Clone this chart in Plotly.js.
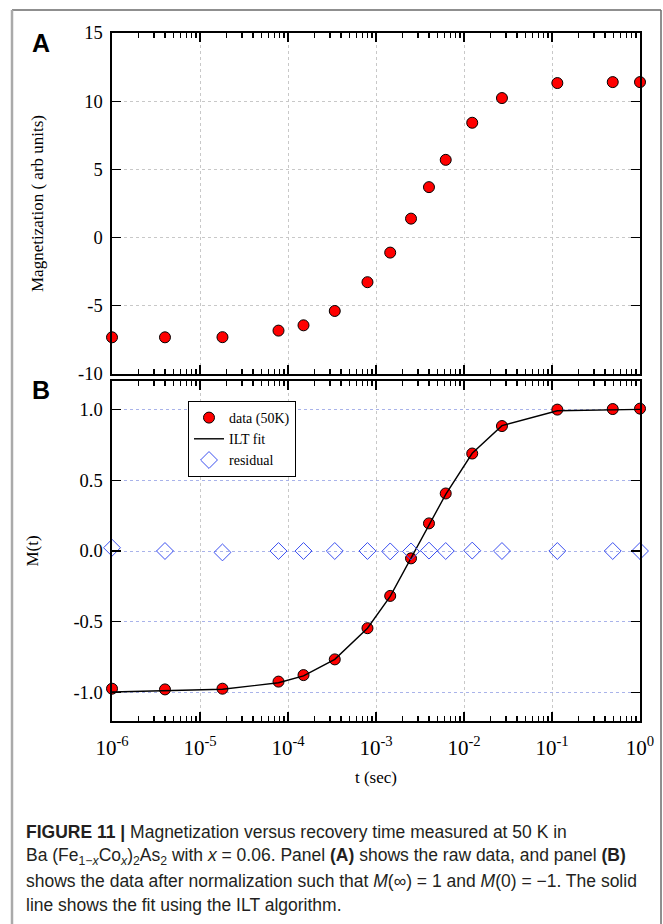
<!DOCTYPE html>
<html>
<head>
<meta charset="utf-8">
<script src="https://cdn.plot.ly/plotly-3.0.1.min.js"></script>
<style>html,body{margin:0;padding:0;background:#fff;}#chart{width:663px;height:924px;}</style>
</head>
<body>
<div id="chart"></div>
<script>
// ---- data ----
const tSec = [1e-6, 4e-6, 1.8e-5, 7.8e-5, 1.5e-4, 3.4e-4, 8e-4, 1.45e-3, 2.5e-3, 4e-3, 6.2e-3, 1.24e-2, 2.7e-2, 0.115, 0.49, 1.0];
const rawMag = [-7.31, -7.31, -7.30, -6.82, -6.43, -5.38, -3.27, -1.10, 1.39, 3.70, 5.70, 8.42, 10.23, 11.33, 11.40, 11.40];
const normM = [-0.972, -0.977, -0.972, -0.922, -0.876, -0.765, -0.545, -0.317, -0.052, 0.195, 0.406, 0.688, 0.882, 0.998, 1.002, 1.005];
const iltFit = [-0.995, -0.986, -0.976, -0.93, -0.882, -0.765, -0.545, -0.32, -0.05, 0.19, 0.40, 0.69, 0.885, 0.99, 1.0, 1.0];
const residual = [0.023, 0.0, -0.01, 0.0, 0.0, 0.0, 0.0, -0.003, -0.003, 0.003, 0.0, 0.003, 0.0, 0.0, 0.0, 0.0];

const xTickVals = [1e-6, 1e-5, 1e-4, 1e-3, 1e-2, 1e-1, 1];
const xTickText = ['10<sup>-6</sup>', '10<sup>-5</sup>', '10<sup>-4</sup>', '10<sup>-3</sup>', '10<sup>-2</sup>', '10<sup>-1</sup>', '10<sup>0</sup>'];
const yTopVals = [-10, -5, 0, 5, 10, 15];
const yTopText = ['-10', '-5', '0', '5', '10', '15'];
const yBotVals = [-1, -0.5, 0, 0.5, 1];
const yBotText = ['-1.0', '-0.5', '0.0', '0.5', '1.0'];

const legendNames = ['data (50K)', 'ILT fit', 'residual'];
const topTitle = 'Magnetization ( arb units)';
const botTitle = 'M(t)';
const xTitle = 't (sec)';
const captionLines = [
  '<b>FIGURE 11 |</b> Magnetization versus recovery time measured at 50 K in',
  'Ba (Fe<sub>1−<i>x</i></sub>Co<sub><i>x</i></sub>)<sub>2</sub>As<sub>2</sub> with <i>x</i> = 0.06. Panel <b>(A)</b> shows the raw data, and panel <b>(B)</b>',
  'shows the data after normalization such that <i>M</i>(∞) = 1 and <i>M</i>(0) = −1. The solid',
  'line shows the fit using the ILT algorithm.'
];

// ---- geometry (pixels) ----
const W = 663, H = 924;
const L = 112, R = 640, T = 33, B = 721;
const px2x = p => (p - L) / (R - L);
const px2y = p => (B - p) / (B - T);

const serif = 'Liberation Serif, Times New Roman, serif';
const sans = 'Liberation Sans, Arial, Helvetica, sans-serif';

function xAxis(showLabels, anchor) {
  return {
    type: 'log', range: [-6, 0], anchor: anchor,
    tickmode: 'array', tickvals: xTickVals, ticktext: xTickText,
    showticklabels: showLabels,
    ticks: 'inside', ticklen: 9, tickwidth: 1.2, tickcolor: '#000',
    minor: {dtick: 'D1', ticks: 'inside', ticklen: 5, tickwidth: 1.1, tickcolor: '#000', showgrid: false},
    showline: true, linecolor: '#000', linewidth: 1.6, mirror: 'allticks',
    showgrid: true, gridcolor: '#c8c8c8', griddash: 'dot', gridwidth: 1,
    zeroline: false,
    tickfont: {family: serif, size: 21, color: '#000'},
    ticklabelstandoff: 7
  };
}
function yAxis(domain, range, vals, text, title, gridColor, anchor) {
  return {
    domain: domain, range: range, anchor: anchor,
    tickmode: 'array', tickvals: vals, ticktext: text,
    ticks: 'inside', ticklen: 9, tickwidth: 1.2, tickcolor: '#000',
    showline: true, linecolor: '#000', linewidth: 1.6, mirror: 'allticks',
    showgrid: true, gridcolor: gridColor, griddash: 'dot', gridwidth: 1,
    zeroline: false,
    tickfont: {family: serif, size: 18.5, color: '#000'},
    ticklabelstandoff: 4,
    title: {text: title, font: {family: serif, size: 17, color: '#000'}, standoff: 30}
  };
}

const traces = [
  {x: tSec, y: rawMag, xaxis: 'x', yaxis: 'y', type: 'scatter', mode: 'markers', showlegend: false, cliponaxis: false,
   marker: {symbol: 'circle', size: 11, color: '#ff0000', line: {color: '#000', width: 1}}},
  {x: tSec, y: normM, xaxis: 'x2', yaxis: 'y2', type: 'scatter', mode: 'markers', name: legendNames[0], cliponaxis: false,
   marker: {symbol: 'circle', size: 11, color: '#ff0000', line: {color: '#000', width: 1}}},
  {x: tSec, y: iltFit, xaxis: 'x2', yaxis: 'y2', type: 'scatter', mode: 'lines', name: legendNames[1], cliponaxis: false,
   line: {color: '#000', width: 1.4}},
  {x: tSec, y: residual, xaxis: 'x2', yaxis: 'y2', type: 'scatter', mode: 'markers', name: legendNames[2], cliponaxis: false,
   marker: {symbol: 'diamond-open', size: 13, color: '#3b4ff0', line: {color: '#3b4ff0', width: 1}}}
];

const topDomain = [px2y(374), 1];
const botDomain = [0, px2y(381)];

const xa2 = xAxis(true, 'y2');
xa2.title = {text: xTitle, font: {family: serif, size: 17, color: '#000'}, standoff: 12};

const annotations = [
  {text: '<b>A</b>', xref: 'paper', yref: 'paper', x: px2x(41), y: px2y(43), xanchor: 'center', yanchor: 'middle', showarrow: false,
   font: {family: sans, size: 25, color: '#000'}},
  {text: '<b>B</b>', xref: 'paper', yref: 'paper', x: px2x(41), y: px2y(390), xanchor: 'center', yanchor: 'middle', showarrow: false,
   font: {family: sans, size: 25, color: '#000'}}
];
const captionY = [832, 856, 881, 905];
captionLines.forEach((t, i) => annotations.push({
  text: t, xref: 'paper', yref: 'paper', x: px2x(24), y: px2y(captionY[i]), xanchor: 'left', yanchor: 'middle',
  align: 'left', showarrow: false, font: {family: sans, size: 17.5, color: '#231f20'}
}));

const shapes = [
  {type: 'line', xref: 'paper', yref: 'paper', x0: px2x(12), x1: px2x(661), y0: px2y(10), y1: px2y(10), line: {color: '#6a6a6a', width: 1.5}},
  {type: 'line', xref: 'paper', yref: 'paper', x0: px2x(12), x1: px2x(12), y0: px2y(10), y1: px2y(930), line: {color: '#aaaaaa', width: 2.5}},
  {type: 'line', xref: 'paper', yref: 'paper', x0: px2x(661), x1: px2x(661), y0: px2y(10), y1: px2y(930), line: {color: '#6a6a6a', width: 1.5}}
];

const layout = {
  width: W, height: H,
  margin: {l: L, r: W - R, t: T, b: H - B, pad: 0},
  paper_bgcolor: '#fff', plot_bgcolor: '#fff',
  showlegend: true,
  legend: {x: px2x(188), y: px2y(401), xanchor: 'left', yanchor: 'top', bgcolor: '#fff', bordercolor: '#000', borderwidth: 1,
           font: {family: serif, size: 14, color: '#000'}, itemwidth: 30, tracegroupgap: 0},
  xaxis: xAxis(false, 'y'),
  yaxis: yAxis(topDomain, [-10, 15], yTopVals, yTopText, topTitle, '#c8c8c8', 'x'),
  xaxis2: xa2,
  yaxis2: yAxis(botDomain, [-1.2, 1.2], yBotVals, yBotText, botTitle, '#a9b3ea', 'x2'),
  annotations: annotations,
  shapes: shapes
};

Plotly.newPlot('chart', traces, layout, {displayModeBar: false, staticPlot: true});
</script>
</body>
</html>
